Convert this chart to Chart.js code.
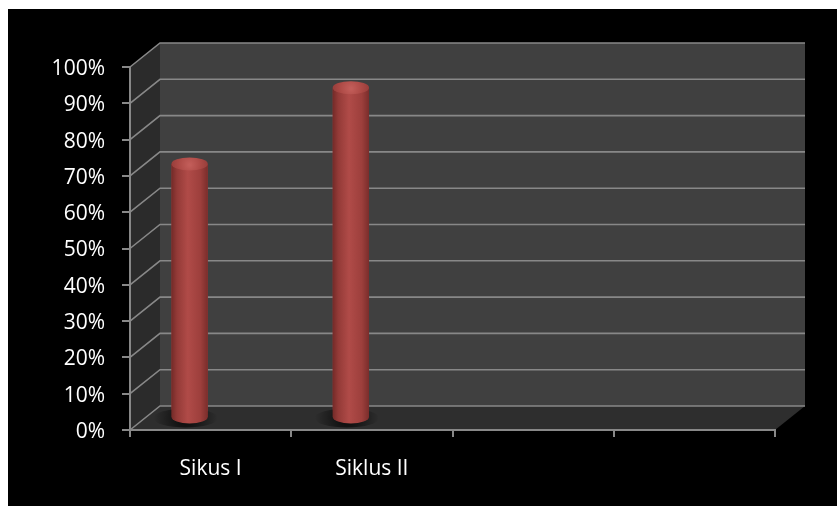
<!DOCTYPE html>
<html>
<head>
<meta charset="utf-8">
<script src="https://cdn.jsdelivr.net/npm/chart.js@4/dist/chart.umd.min.js"></script>
<style>
  html, body { margin: 0; padding: 0; background: #fff; }
  #wrap { position: absolute; left: 8px; top: 9px; width: 829px; height: 497px; background: #000; }
</style>
</head>
<body>
<div id="wrap"><canvas id="chart"></canvas></div>
<script>
"use strict";

// ── Data ─────────────────────────────────────────────────────────────────────
const CATEGORIES = ["Sikus I", "Siklus II", "", ""];
const VALUES = [70, 91, null, null];
const Y_TICK_LABELS = ["0%", "10%", "20%", "30%", "40%", "50%", "60%", "70%", "80%", "90%", "100%"];

// ── 3D look ──────────────────────────────────────────────────────────────────
const DEPTH_X = 30, DEPTH_Y = -24;       // back wall offset from the front plane
const BAR_SHIFT_X = -21, BAR_SHIFT_Y = -12;
const LINE = "#888888";

function poly(ctx, pts) {
  ctx.beginPath();
  pts.forEach(([x, y], i) => i ? ctx.lineTo(x, y) : ctx.moveTo(x, y));
  ctx.closePath();
  ctx.fill();
}

// walls, floor and back-wall gridlines, drawn behind everything
const wallsPlugin = {
  id: "walls",
  beforeDraw(chart) {
    const { ctx, chartArea: a, scales: { y } } = chart;
    ctx.save();
    ctx.fillStyle = "#2b2b2b";
    poly(ctx, [[a.left, a.top], [a.left + DEPTH_X, a.top + DEPTH_Y], [a.left + DEPTH_X, a.bottom + DEPTH_Y], [a.left, a.bottom]]);
    ctx.fillStyle = "#404040";
    ctx.fillRect(a.left + DEPTH_X, a.top + DEPTH_Y, a.right - a.left, a.bottom - a.top);
    ctx.fillStyle = "#2e2e2e";
    poly(ctx, [[a.left, a.bottom], [a.right, a.bottom], [a.right + DEPTH_X, a.bottom + DEPTH_Y], [a.left + DEPTH_X, a.bottom + DEPTH_Y]]);

    ctx.strokeStyle = LINE;
    ctx.lineWidth = 1.6;
    y.ticks.forEach(t => {
      const py = y.getPixelForValue(t.value);
      ctx.beginPath();
      ctx.moveTo(a.left, py);
      ctx.lineTo(a.left + DEPTH_X, py + DEPTH_Y);
      ctx.lineTo(a.right + DEPTH_X, py + DEPTH_Y);
      ctx.stroke();
    });
    ctx.restore();
  },
};

// turns the flat bars into shaded cylinders standing mid-depth
const cylinderPlugin = {
  id: "cylinders",
  beforeDatasetsDraw(chart) {
    chart.ctx.save();
    chart.ctx.translate(BAR_SHIFT_X, BAR_SHIFT_Y);
  },
  afterDatasetsDraw(chart) {
    const ctx = chart.ctx;
    chart.getDatasetMeta(0).data.forEach((bar, i) => {
      if (VALUES[i] == null) return;
      const { x, y, base, width } = bar.getProps(["x", "y", "base", "width"], true);
      const rx = width / 2, ry = 6.5, l = x - rx, r = x + rx;

      // soft shadow on the floor
      const sh = ctx.createRadialGradient(x - 4, base + 1, 2, x - 4, base + 1, rx + 14);
      sh.addColorStop(0, "rgba(0,0,0,0.75)");
      sh.addColorStop(1, "rgba(0,0,0,0)");
      ctx.save();
      ctx.fillStyle = sh;
      ctx.beginPath();
      ctx.ellipse(x - 4, base + 1, rx + 14, ry + 3, 0, 0, Math.PI * 2);
      ctx.fill();
      ctx.restore();

      // body
      const g = ctx.createLinearGradient(l, 0, r, 0);
      g.addColorStop(0, "#742a28");
      g.addColorStop(0.15, "#933a37");
      g.addColorStop(0.45, "#b04b48");
      g.addColorStop(0.8, "#9d3f3c");
      g.addColorStop(1, "#7a2d2b");
      ctx.fillStyle = g;
      ctx.beginPath();
      ctx.moveTo(l, y);
      ctx.lineTo(l, base);
      ctx.ellipse(x, base, rx, ry, 0, Math.PI, 0, true);
      ctx.lineTo(r, y);
      ctx.closePath();
      ctx.fill();

      // top cap
      const cap = ctx.createRadialGradient(x, y + 1, 1, x, y, rx);
      cap.addColorStop(0, "#c25d59");
      cap.addColorStop(0.6, "#ac4945");
      cap.addColorStop(1, "#983e3b");
      ctx.fillStyle = cap;
      ctx.beginPath();
      ctx.ellipse(x, y, rx, ry, 0, 0, Math.PI * 2);
      ctx.fill();
    });
    ctx.restore();
  },
};

const FONT = { family: "Open Sans", size: 21 };

new Chart(document.getElementById("chart"), {
  type: "bar",
  data: {
    labels: CATEGORIES,
    datasets: [{
      data: VALUES,
      backgroundColor: "#9c3e3b",
      borderWidth: 0,
      barPercentage: 0.45,
      categoryPercentage: 0.5,
    }],
  },
  options: {
    responsive: true,
    maintainAspectRatio: false,
    animation: false,
    layout: { padding: { top: 58, right: 62, left: 0, bottom: 0 } },
    plugins: { legend: { display: false }, tooltip: { enabled: false } },
    scales: {
      x: {
        grid: { offset: true, drawOnChartArea: false, tickLength: 7, color: LINE, lineWidth: 2 },
        border: { display: true, color: LINE, width: 2 },
        ticks: { color: "#fff", font: FONT, padding: 19, maxRotation: 0, autoSkip: false },
        afterFit: s => { s.height = 76; },
      },
      y: {
        min: 0,
        max: 100,
        grid: { drawOnChartArea: false, tickLength: 8, color: LINE, lineWidth: 2 },
        border: { display: true, color: LINE, width: 2 },
        ticks: {
          stepSize: 10,
          color: "#fff",
          font: FONT,
          padding: 17,
          labelOffset: 2,
          callback: (v, i) => Y_TICK_LABELS[i],
        },
        afterFit: s => { s.width = 122; },
      },
    },
  },
  plugins: [wallsPlugin, cylinderPlugin],
});
</script>
</body>
</html>
